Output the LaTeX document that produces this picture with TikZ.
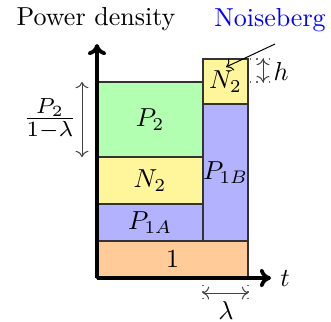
\documentclass[tikz,border=0pt]{standalone}
\usepackage{tikz}
\usetikzlibrary{arrows.meta}
\definecolor{bandyellow}{RGB}{255,245,155}
\tikzstyle{band}=[draw=black!80, line width=0.5pt]
\tikzstyle{axis}=[line width=1.5pt, -{To[length=4.5pt,width=7.5pt]}]
\tikzstyle{dim}=[<->, black!75, line width=0.4pt]
\tikzstyle{guide}=[dotted, black!60, line width=0.5pt]

\begin{document}
\begin{tikzpicture}[x=0.4pt, y=-0.4pt, every node/.style={scale=1.04}]
\useasboundingbox (0,0) rectangle (331,321);
% stacked bands
\draw[band, fill=orange!40] (97,241) rectangle node (one) {$1$} (248,278);
\draw[band, fill=blue!30] (97,204) rectangle node (pa) {$P_{1A}$} (203,241);
\draw[band, fill=bandyellow] (97,157) rectangle node (na) {$N_2$} (203,204);
\draw[band, fill=green!30] (97,82) rectangle node (ptwo) {$P_2$} (203,157);
\draw[band, fill=blue!30] (203,104) rectangle node (pb) {$P_{1B}$} (248,241);
\draw[band, fill=bandyellow] (203,59) rectangle node (nb) {$N_2$} (248,104);
% axes
\coordinate (o) at (97,278);
\coordinate (xend) at (271,278);
\coordinate (yend) at (97,44);
\draw[axis] (o) -- (xend);
\draw[axis] (o) -- (yend);
\node (t) at (285,278) {$t$};
\node (pd) at (96,19) {Power density};
\node (noise) [text=blue] at (270,20) {Noiseberg};
\coordinate (nstart) at (275,44);
\coordinate (ntip) at (226,67);
\draw[->, line width=0.4pt] (nstart) -- (ntip);
% h
\coordinate (h1) at (250,59);
\coordinate (h2) at (275,59);
\coordinate (h3) at (250,82);
\coordinate (h4) at (275,82);
\draw[guide] (h1) -- (h2);
\draw[guide] (h3) -- (h4);
\draw[dim] (263,59) -- (263,82);
\node (h) at (281,71) {$h$};
% P2/(1-lambda)
\coordinate (f1) at (82,82);
\coordinate (f2) at (82,157);
\draw[dim] (f1) -- (f2);
\node (frac) [scale=1.2] at (50,119) {$\frac{P_2}{1-\lambda}$};
% lambda
\coordinate (l1) at (203,285);
\coordinate (l2) at (203,299);
\coordinate (l3) at (248,285);
\coordinate (l4) at (248,299);
\draw[guide] (l1) -- (l2);
\draw[guide] (l3) -- (l4);
\draw[dim] (203,293) -- (248,293);
\node (lam) at (226,310) {$\lambda$};
\end{tikzpicture}
\end{document}
